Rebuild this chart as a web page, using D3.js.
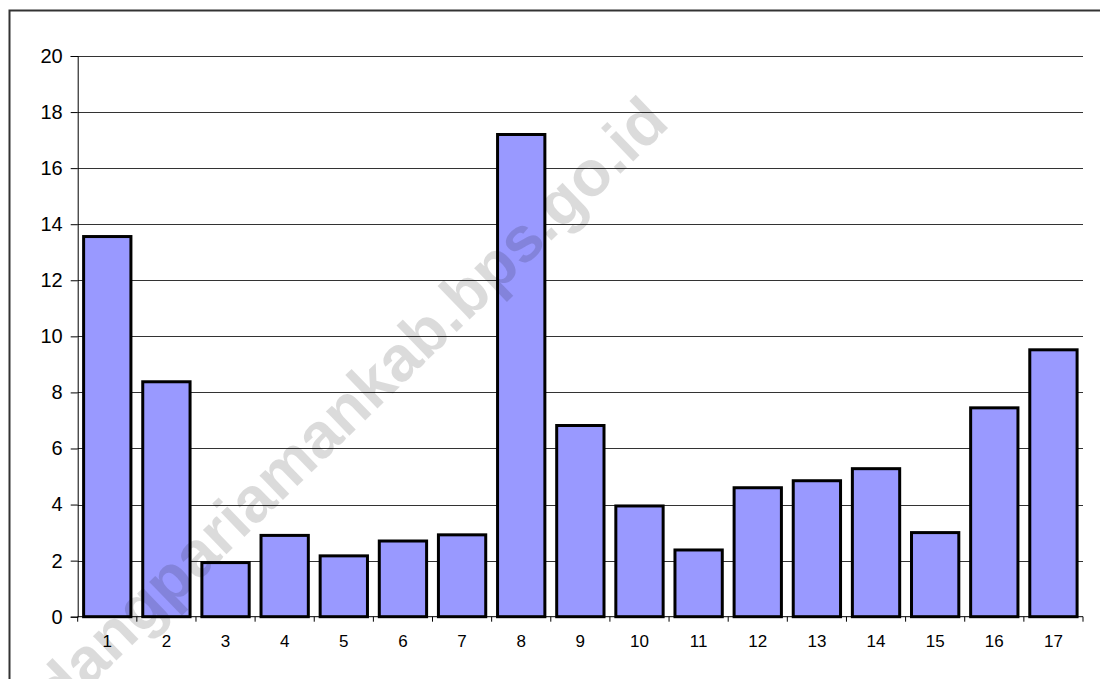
<!DOCTYPE html>
<html>
<head>
<meta charset="utf-8">
<script src="https://cdn.jsdelivr.net/npm/d3@7"></script>
<style>
  html, body { margin: 0; padding: 0; background: #fff; }
  svg { display: block; }
  text { font-family: Arial, "Liberation Sans", sans-serif; }
</style>
</head>
<body>
<svg id="chart" width="1100" height="679"></svg>
<script>
// ---- data ----
const categories = ["1","2","3","4","5","6","7","8","9","10","11","12","13","14","15","16","17"];
const values = [13.56, 8.38, 1.93, 2.90, 2.17, 2.70, 2.92, 17.20, 6.82, 3.95, 2.38, 4.60, 4.85, 5.28, 3.00, 7.45, 9.52];
const yTicks = [0, 2, 4, 6, 8, 10, 12, 14, 16, 18, 20];
const watermark = "padangpariamankab.bps.go.id";

// ---- layout ----
const plot = { left: 77.7, right: 1083, top: 56, bottom: 616.7 };

const svg = d3.select("#chart");

// outer frame (extends beyond the right/bottom edges)
svg.append("rect")
  .attr("x", 9.5).attr("y", 10.5)
  .attr("width", 1300).attr("height", 900)
  .attr("fill", "#fff").attr("stroke", "#333").attr("stroke-width", 2);

const y = d3.scaleLinear().domain([0, 20]).range([plot.bottom, plot.top]);
const x = d3.scaleBand().domain(categories).range([plot.left, plot.right])
  .paddingInner(0.2).paddingOuter(0.1);
const xCell = d3.scaleBand().domain(categories).range([plot.left, plot.right]).padding(0);

// gridlines
svg.append("g").selectAll("line")
  .data(yTicks.filter(t => t > 0))
  .join("line")
  .attr("x1", plot.left).attr("x2", plot.right)
  .attr("y1", d => Math.round(y(d)) + 0.5).attr("y2", d => Math.round(y(d)) + 0.5)
  .attr("stroke", "#333").attr("stroke-width", 1);

// bars
svg.append("g").selectAll("rect")
  .data(values)
  .join("rect")
  .attr("x", (d, i) => x(categories[i]))
  .attr("width", x.bandwidth())
  .attr("y", d => y(d))
  .attr("height", d => y(0) - y(d))
  .attr("fill", "#9999FF")
  .attr("stroke", "#000")
  .attr("stroke-width", 3);

// y axis
const yAxis = d3.axisLeft(y).tickValues(yTicks).tickSize(7).tickPadding(8).tickFormat(d3.format("d"));
const gy = svg.append("g").attr("transform", `translate(${plot.left},0)`).call(yAxis);
gy.attr("font-family", null).attr("font-size", null);
gy.select(".domain").attr("stroke", "#000");
gy.selectAll(".tick line").attr("stroke", "#000");
gy.selectAll(".tick text").style("font-size", "20px").attr("fill", "#000");

// x axis: ticks at cell boundaries
const gx = svg.append("g");
gx.append("line")
  .attr("x1", plot.left).attr("x2", plot.right)
  .attr("y1", y(0)).attr("y2", y(0))
  .attr("stroke", "#000").attr("stroke-width", 1);
const boundaries = categories.map(c => xCell(c)).concat([xCell(categories[categories.length - 1]) + xCell.bandwidth()]);
gx.selectAll("line.tk")
  .data(boundaries)
  .join("line").attr("class", "tk")
  .attr("x1", d => d).attr("x2", d => d)
  .attr("y1", y(0)).attr("y2", y(0) + 5)
  .attr("stroke", "#000");
gx.selectAll("text")
  .data(categories)
  .join("text")
  .attr("x", d => xCell(d) + xCell.bandwidth() / 2)
  .attr("y", y(0) + 30)
  .attr("text-anchor", "middle")
  .style("font-size", "17px")
  .attr("fill", "#000")
  .text(d => d);

// watermark (partly outside the frame, as in the reference)
svg.append("text")
  .attr("transform", "translate(671,125) rotate(-44)")
  .attr("text-anchor", "end")
  .style("font-size", "64px")
  .style("font-weight", "bold")
  .attr("fill", "#000")
  .attr("fill-opacity", 0.14)
  .text(watermark);
</script>
</body>
</html>
